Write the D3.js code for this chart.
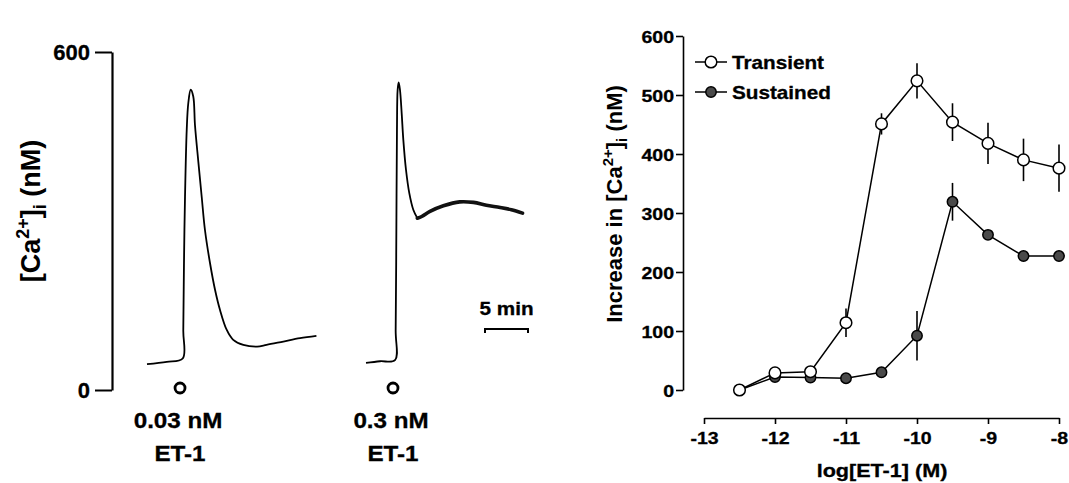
<!DOCTYPE html>
<html>
<head>
<meta charset="utf-8">
<script src="https://cdn.jsdelivr.net/npm/d3@7"></script>
<style>
  html, body { margin: 0; padding: 0; background: #fff; }
  svg { display: block; font-family: "Liberation Sans", Arial, Helvetica, sans-serif; font-weight: bold; }
</style>
</head>
<body>
<svg id="chart" width="1069" height="483"></svg>
<script>
// ---- Left panel: [Ca2+]i recordings (minutes, nM) ----
const traceTime1 = [0, 2.3, 4.15, 4.22, 4.3, 4.42, 4.62, 4.8, 5.08, 5.38, 5.58, 5.97, 6.36, 6.74, 7.33, 7.91, 8.49, 9.26, 10.03, 11.2, 12.8, 13.9, 15.85, 17.8, 19.7];
const traceCa1   = [46, 50, 56, 106, 225, 343, 462, 509, 533, 521, 470, 405, 343, 284, 225, 178, 142, 107, 89, 80, 77, 80, 86, 92, 96];

const traceTime2 = [0, 1.63, 3.37, 3.45, 3.53, 3.6, 3.68, 3.8, 3.95, 4.15, 4.34, 4.65, 5.04, 5.5, 5.97];
const traceCa2   = [48, 51, 53, 106, 284, 462, 533, 546, 533, 491, 444, 391, 349, 320, 305];
const plateauTime2 = [5.97, 6.48, 7.44, 9, 10.9, 12.5, 14, 15.6, 16.9, 18.2];
const plateauCa2   = [305, 308, 317, 327, 334, 333, 328, 324, 320, 314];

const additionTimes = [3.84, 3.14];
const doseLabels = ["0.03 nM", "0.3 nM"];
const agentLabel = "ET-1";
const leftTicks = [0, 600];
const scaleBarMinutes = 5;

// ---- Right panel: concentration-response ----
const logConc = [-12.5, -12, -11.5, -11, -10.5, -10, -9.5, -9, -8.5, -8];
const transientMean = [0, 29, 31, 114, 451, 524, 454, 418, 390, 376];
const transientErr  = [0, 4, 4, 24, 18, 30, 32, 35, 36, 40];
const sustainedMean = [0, 22, 21, 20, 30, 92, 319, 263, 227, 227];
const sustainedErr  = [0, 3, 3, 3, 4, 42, 32, 5, 5, 5];
const rightYTicks = [0, 100, 200, 300, 400, 500, 600];
const rightXTicks = [-13, -12, -11, -10, -9, -8];
const seriesNames = ["Transient", "Sustained"];

const svg = d3.select("#chart");

function stretchedText(g, x, y, str, size, sx, anchor) {
  return g.append("text")
    .attr("transform", `translate(${x},${y}) scale(${sx},1)`)
    .attr("text-anchor", anchor)
    .attr("font-size", size)
    .attr("fill", "#000")
    .attr("stroke", "#000").attr("stroke-width", 0.3)
    .text(str);
}

// ================= Left panel =================
const yL = d3.scaleLinear().domain([0, 600]).range([390, 52]);
const tScale = d3.scaleLinear().domain([0, 20]).range([0, 172]);
const traceOrigins = [147, 366];

const leftAxis = svg.append("g")
  .attr("transform", "translate(112,0)")
  .call(d3.axisLeft(yL).tickValues(leftTicks).tickSize(17).tickSizeOuter(0).tickPadding(5));
leftAxis.select(".domain").attr("stroke", "#000").attr("stroke-width", 2.2);
leftAxis.selectAll(".tick line").attr("stroke", "#000").attr("stroke-width", 2);
leftAxis.selectAll(".tick text")
  .attr("font-size", 22).attr("font-family", "Liberation Sans, Arial, sans-serif")
  .attr("font-weight", "bold").attr("fill", "#000").attr("dy", "0.36em")
  .attr("stroke", "#000").attr("stroke-width", 0.3);

// y-axis title with super/subscripts
const lt = svg.append("text")
  .attr("transform", "translate(40,211) rotate(-90)")
  .attr("text-anchor", "middle")
  .attr("font-size", 27)
  .attr("fill", "#000");
lt.append("tspan").text("[Ca");
lt.append("tspan").attr("font-size", 18).attr("dy", -11).text("2+");
lt.append("tspan").attr("dy", 11).text("]");
lt.append("tspan").attr("font-size", 18).attr("dy", 6).text("i");
lt.append("tspan").attr("dy", -6).text(" (nM)");

const traceLine = d3.line()
  .x(d => tScale(d[0]))
  .y(d => yL(d[1]))
  .curve(d3.curveCatmullRom.alpha(0.5));

const traces = [
  { main: d3.zip(traceTime1, traceCa1), plateau: null },
  { main: d3.zip(traceTime2, traceCa2), plateau: d3.zip(plateauTime2, plateauCa2) }
];

traces.forEach((tr, i) => {
  const g = svg.append("g").attr("transform", `translate(${traceOrigins[i]},0)`);
  g.append("path").attr("d", traceLine(tr.main))
    .attr("fill", "none").attr("stroke", "#000").attr("stroke-width", 1.8)
    .attr("stroke-linejoin", "round");
  if (tr.plateau) {
    g.append("path").attr("d", traceLine(tr.plateau))
      .attr("fill", "none").attr("stroke", "#111").attr("stroke-width", 3.6)
      .attr("stroke-linejoin", "round").attr("stroke-linecap", "round");
  }
  const mx = tScale(additionTimes[i]);
  g.append("circle").attr("cx", mx).attr("cy", yL(0) - 2).attr("r", 5)
    .attr("fill", "#fff").attr("stroke", "#000").attr("stroke-width", 2.8);
  stretchedText(g, mx - 2, 428, doseLabels[i], 22, 1.1, "middle");
  stretchedText(g, mx, 461, agentLabel, 22, 1.1, "middle");
});

// time scale bar
const barX0 = 485, barY = 329;
const barW = tScale(scaleBarMinutes) - tScale(0);
svg.append("path")
  .attr("d", `M${barX0},${barY + 4}V${barY}H${barX0 + barW}V${barY + 4}`)
  .attr("fill", "none").attr("stroke", "#000").attr("stroke-width", 2);
stretchedText(svg, barX0 + barW / 2, 315, `${scaleBarMinutes} min`, 18, 1.15, "middle");

// ================= Right panel =================
const xR = d3.scaleLinear().domain([-13, -8]).range([704, 1059]);
const yR = d3.scaleLinear().domain([0, 600]).range([390, 36]);

const ryAxis = svg.append("g")
  .attr("transform", "translate(683,0)")
  .call(d3.axisLeft(yR).tickValues(rightYTicks).tickSize(7).tickSizeOuter(0).tickFormat(d3.format("d")));
ryAxis.select(".domain").attr("stroke", "#000").attr("stroke-width", 1.6);
ryAxis.selectAll(".tick line").attr("stroke", "#000").attr("stroke-width", 1.6);
ryAxis.selectAll(".tick text")
  .attr("x", null).attr("dy", null)
  .attr("transform", "translate(-9,6) scale(1.15,1)")
  .attr("font-size", 17).attr("font-family", "Liberation Sans, Arial, sans-serif")
  .attr("font-weight", "bold").attr("fill", "#000")
  .attr("stroke", "#000").attr("stroke-width", 0.3);

const rxAxis = svg.append("g")
  .attr("transform", "translate(0,418)")
  .call(d3.axisBottom(xR).tickValues(rightXTicks).tickSize(6).tickSizeOuter(0).tickFormat(d3.format("d")));
rxAxis.select(".domain").attr("stroke", "#000").attr("stroke-width", 1.6);
rxAxis.selectAll(".tick line").attr("stroke", "#000").attr("stroke-width", 1.6);
rxAxis.selectAll(".tick text")
  .attr("y", null).attr("dy", null)
  .attr("transform", "translate(0,26) scale(1.15,1)")
  .attr("font-size", 17).attr("font-family", "Liberation Sans, Arial, sans-serif")
  .attr("font-weight", "bold").attr("fill", "#000")
  .attr("stroke", "#000").attr("stroke-width", 0.3)
  .text(d => d3.format("d")(d).replace("−", "-"));

stretchedText(svg, 882, 477, "log[ET-1] (M)", 18, 1.2, "middle");

const rt = svg.append("text")
  .attr("transform", "translate(622,204) rotate(-90)")
  .attr("text-anchor", "middle")
  .attr("font-size", 22)
  .attr("fill", "#000");
rt.append("tspan").text("Increase in [Ca");
rt.append("tspan").attr("font-size", 15).attr("dy", -9).text("2+");
rt.append("tspan").attr("dy", 9).text("]");
rt.append("tspan").attr("font-size", 15).attr("dy", 5).text("i");
rt.append("tspan").attr("dy", -5).text(" (nM)");

const series = [
  { name: seriesNames[1], mean: sustainedMean, err: sustainedErr, fill: "#4a4a4a", r: 5.2 },
  { name: seriesNames[0], mean: transientMean, err: transientErr, fill: "#fff", r: 5.8 }
];

const doseLine = d3.line().x(d => xR(d[0])).y(d => yR(d[1]));

series.forEach(s => {
  const pts = logConc.map((x, i) => ({ x, y: s.mean[i], e: s.err[i] }));
  const g = svg.append("g");
  g.selectAll("line.err").data(pts.filter(p => p.e > 0)).join("line")
    .attr("x1", p => xR(p.x)).attr("x2", p => xR(p.x))
    .attr("y1", p => yR(p.y + p.e)).attr("y2", p => yR(p.y - p.e))
    .attr("stroke", "#000").attr("stroke-width", 1.6);
  g.append("path").attr("d", doseLine(pts.map(p => [p.x, p.y])))
    .attr("fill", "none").attr("stroke", "#000").attr("stroke-width", 1.5);
  g.selectAll("circle").data(pts).join("circle")
    .attr("cx", p => xR(p.x)).attr("cy", p => yR(p.y)).attr("r", s.r)
    .attr("fill", s.fill).attr("stroke", "#000").attr("stroke-width", 1.5);
});

// legend
const legendRows = [
  { name: seriesNames[0], fill: "#fff", r: 5.8, y: 62 },
  { name: seriesNames[1], fill: "#4a4a4a", r: 5.2, y: 92 }
];
legendRows.forEach(row => {
  svg.append("line").attr("x1", 695).attr("x2", 727).attr("y1", row.y).attr("y2", row.y)
    .attr("stroke", "#000").attr("stroke-width", 1.5);
  svg.append("circle").attr("cx", 711).attr("cy", row.y).attr("r", row.r)
    .attr("fill", row.fill).attr("stroke", "#000").attr("stroke-width", 1.5);
  stretchedText(svg, 732, row.y + 6.5, row.name, 18, 1.15, "start");
});
</script>
</body>
</html>
